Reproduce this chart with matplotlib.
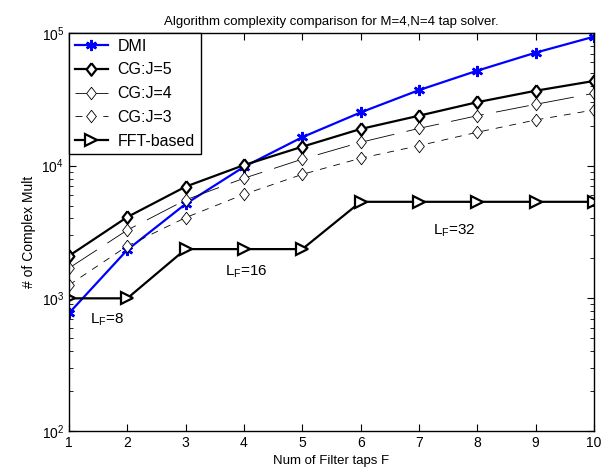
import numpy as np
import matplotlib
matplotlib.use('Agg')
import matplotlib.pyplot as plt

plt.rcParams['font.family'] = ['Liberation Sans', 'DejaVu Sans']
plt.rcParams['mathtext.fontset'] = 'custom'
plt.rcParams['mathtext.rm'] = 'Liberation Sans'
plt.rcParams['mathtext.it'] = 'Liberation Sans:italic'
plt.rcParams['lines.scale_dashes'] = False

taps = [1, 2, 3, 4, 5, 6, 7, 8, 9, 10]
dmi = [773, 2320, 5150, 9800, 16400, 25200, 37100, 52000, 71100, 93800]
cg_j5 = [2090, 4100, 6950, 10100, 13900, 18900, 23800, 30100, 36700, 43500]
cg_j4 = [1690, 3270, 5520, 8040, 11200, 15000, 19100, 23800, 29000, 35100]
cg_j3 = [1260, 2480, 4060, 6080, 8600, 11380, 14150, 17870, 22100, 26300]
fft = [1000, 1000, 2350, 2350, 2350, 5340, 5340, 5340, 5340, 5340]

# matlab-like diamond, a bit taller than wide
diamond = [(0, 1), (0.78, 0), (0, -1), (-0.78, 0), (0, 1)]

fig = plt.figure(figsize=(6.11, 4.74), dpi=100)
ax = fig.add_axes([0.1129, 0.0907, 0.8593, 0.8397])

ax.plot(taps, dmi, color='blue', lw=1.6, marker=(6, 2, 0), ms=8, mew=1.8, label='DMI')
ax.plot(taps, cg_j5, color='black', lw=1.6, marker=diamond, ms=9, mfc='white', mew=1.6, label='CG:J=5')
ax.plot(taps, cg_j4, color='black', lw=0.6, linestyle=(0, (24, 9)), marker=diamond, ms=9,
        mfc='white', mew=0.6, label='CG:J=4')
ax.plot(taps, cg_j3, color='black', lw=0.6, linestyle=(0, (5, 5)), marker=diamond, ms=9,
        mfc='white', mew=0.6, label='CG:J=3')
ax.plot(taps, fft, color='black', lw=1.6, marker='>', ms=8, mfc='white', mew=1.6, label='FFT-based')

ax.text(1.36, 690, r'L$_\mathregular{F}$=8', fontsize=11, ha='left', va='center')
ax.text(3.67, 1580, r'L$_\mathregular{F}$=16', fontsize=11, ha='left', va='center')
ax.text(7.24, 3220, r'L$_\mathregular{F}$=32', fontsize=11, ha='left', va='center')

ax.set_yscale('log')
ax.set_xlim(1, 10)
ax.set_ylim(1e2, 1e5)
ax.set_xticks(taps)
ax.tick_params(which='both', direction='in', top=True, right=True, labelsize=10)
ax.tick_params(which='major', length=5)
ax.tick_params(which='minor', length=3)
for s in ax.spines.values():
    s.set_linewidth(1.0)

ax.set_title('Algorithm complexity comparison for M=4,N=4 tap solver.', fontsize=9.5, pad=6)
ax.set_xlabel('Num of Filter taps F', fontsize=9.5, labelpad=4)
ax.set_ylabel('# of Complex Mult', fontsize=10, labelpad=4)

leg = ax.legend(loc='upper left', fontsize=11.5, fancybox=False, framealpha=1,
                edgecolor='black', borderaxespad=0, handlelength=2.1,
                handletextpad=0.6, labelspacing=0.55, borderpad=0.35)
leg.get_frame().set_linewidth(1.0)

fig.savefig('out.png', dpi=100)
